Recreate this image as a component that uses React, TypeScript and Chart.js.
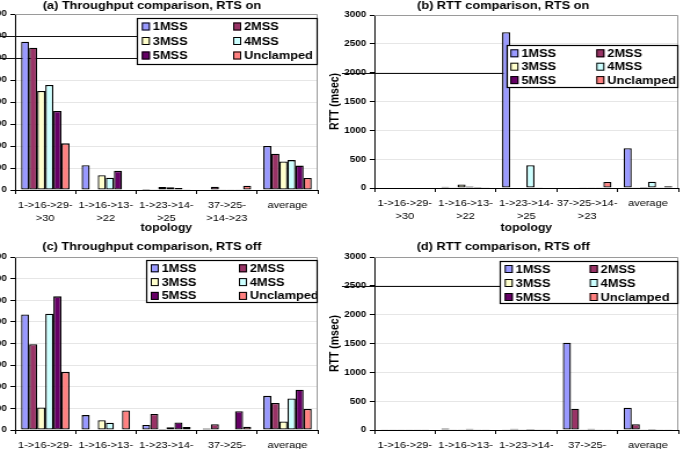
import React, { useEffect, useRef } from 'react';
import { Chart, registerables } from 'chart.js';

Chart.register(...registerables);

// Category labels (topologies)
const topologies = [['1->16->29-', '>30'], ['1->16->13-', '>22'], ['1->23->14-', '>25'], ['37->25-', '>14->23'], 'average'];
const topologiesRttOn = [['1->16->29-', '>30'], ['1->16->13-', '>22'], ['1->23->14-', '>25'], ['37->25->14-', '>23'], 'average'];

const seriesNames = ['1MSS', '2MSS', '3MSS', '4MSS', '5MSS', 'Unclamped'];
const seriesColors = ['#9999FF', '#993366', '#FFFFCC', '#CCFFFF', '#660066', '#FF8080'];

// (a) Throughput, RTS on
const thrOn1MSS = [674, 113, 4, 2, 200];
const thrOn2MSS = [647, 0, 1, 15, 165];
const thrOn3MSS = [450, 67, 14, 1, 130];
const thrOn4MSS = [477, 56, 12, 1, 136];
const thrOn5MSS = [359, 87, 9, 1, 111];
const thrOnUnclamped = [212, 0, 3, 19, 55];

// (b) RTT, RTS on
const rttOn1MSS = [10, 20, 2700, 8, 690];
const rttOn2MSS = [10, 12, 10, 8, 15];
const rttOn3MSS = [10, 60, 8, 6, 18];
const rttOn4MSS = [10, 25, 395, 6, 110];
const rttOn5MSS = [10, 18, 12, 6, 12];
const rttOnUnclamped = [10, 15, 8, 105, 30];

// (c) Throughput, RTS off
const thrOff1MSS = [534, 69, 23, 7, 158];
const thrOff2MSS = [397, 0, 74, 27, 125];
const thrOff3MSS = [104, 45, 5, 0, 39];
const thrOff4MSS = [538, 34, 13, 0, 146];
const thrOff5MSS = [618, 0, 35, 87, 186];
const thrOffUnclamped = [269, 90, 14, 15, 97];

// (d) RTT, RTS off
const rttOff1MSS = [4, 25, 6, 1515, 385];
const rttOff2MSS = [4, 6, 20, 370, 100];
const rttOff3MSS = [4, 6, 4, 6, 5];
const rttOff4MSS = [4, 20, 18, 20, 18];
const rttOff5MSS = [4, 6, 4, 4, 5];
const rttOffUnclamped = [4, 4, 4, 6, 5];

// Axis ranges
const throughputMax = 800;
const throughputStep = 100;
const rttMax = 3000;
const rttStep = 500;

const FONT = '"Liberation Sans", Arial, Helvetica, sans-serif';
const STRETCH = 1.16;

Chart.defaults.font.family = FONT;
Chart.defaults.color = '#000';

// Legend box drawn inside the plot area, two columns, over the bars
const legendBox = {
  id: 'legendBox',
  afterDatasetsDraw(chart: any, _args: any, opts: any) {
    const { ctx, chartArea } = chart;
    const x0 = Math.round(chartArea.right - opts.width);
    const y0 = Math.round(chartArea.top + opts.top);
    ctx.save();
    ctx.fillStyle = '#fff';
    ctx.fillRect(x0, y0, opts.width, opts.height);
    ctx.strokeStyle = '#000';
    ctx.lineWidth = 1.2;
    ctx.strokeRect(x0 + 0.5, y0 + 0.5, opts.width - 1, opts.height - 1);
    ctx.font = `bold 11px ${FONT}`;
    ctx.textBaseline = 'middle';
    ctx.textAlign = 'left';
    chart.data.datasets.forEach((ds: any, i: number) => {
      const col = i % 2;
      const row = Math.floor(i / 2);
      const sx = x0 + (col ? opts.col2 : opts.col1);
      const cy = y0 + opts.firstRow + row * opts.rowGap;
      ctx.fillStyle = ds.backgroundColor;
      ctx.fillRect(sx, cy - 4, 7, 8);
      ctx.lineWidth = 1;
      ctx.strokeStyle = '#000';
      ctx.strokeRect(sx + 0.5, cy - 3.5, 6, 7);
      ctx.fillStyle = '#000';
      ctx.fillText(ds.label, sx + 9.5, cy + 0.5);
    });
    ctx.restore();
  },
};

// Plot-area frame (top and right) plus dark reference rules left of the legend
const plotFrame = {
  id: 'plotFrame',
  beforeDatasetsDraw(chart: any, _args: any, opts: any) {
    const { ctx, chartArea } = chart;
    ctx.save();
    ctx.strokeStyle = '#9a9a9a';
    ctx.lineWidth = 1;
    ctx.beginPath();
    ctx.moveTo(chartArea.left, Math.round(chartArea.top) + 0.5);
    ctx.lineTo(Math.round(chartArea.right) - 0.5, Math.round(chartArea.top) + 0.5);
    ctx.lineTo(Math.round(chartArea.right) - 0.5, chartArea.bottom);
    ctx.stroke();
    const legendW = chart.options.plugins.legendBox.width;
    const yScale = chart.scales.y;
    ctx.strokeStyle = '#111';
    ctx.lineWidth = 1.1;
    (opts.rules || []).forEach((v: number) => {
      const py = Math.round(yScale.getPixelForValue(v)) + 0.5;
      ctx.beginPath();
      ctx.moveTo(opts.fromX, py);
      ctx.lineTo(chartArea.right - legendW, py);
      ctx.stroke();
    });
    ctx.restore();
  },
};

type LegendSpec = { top: number; width: number; height: number; col1: number; col2: number; firstRow: number; rowGap: number };

type PanelSpec = {
  title: string;
  labels: any[];
  series: number[][];
  max: number;
  step: number;
  yTitle?: string;
  left: number;
  top: number;
  width: number;
  height: number;
  yWidth: number;
  xHeight: number;
  padRight: number;
  titlePad: { top: number; bottom: number };
  legend: LegendSpec;
  rules: number[];
  rulesFromX: number;
};

function BarPanel(p: PanelSpec) {
  const ref = useRef<HTMLCanvasElement>(null);

  useEffect(() => {
    const datasets = p.series.map((data, i) => ({
      label: seriesNames[i],
      data,
      backgroundColor: seriesColors[i],
      borderColor: '#000',
      borderWidth: 1.3,
      borderSkipped: false as const,
      categoryPercentage: 0.8,
      barPercentage: 1.0,
    }));
    const chart = new Chart(ref.current as HTMLCanvasElement, {
      type: 'bar',
      data: { labels: p.labels, datasets },
      plugins: [plotFrame, legendBox],
      options: {
        responsive: false,
        animation: false,
        devicePixelRatio: 1,
        layout: { padding: { left: 0, right: p.padRight, top: 0, bottom: 0 } },
        plugins: {
          legend: { display: false },
          tooltip: { enabled: false },
          title: {
            display: true,
            text: p.title,
            color: '#000',
            font: { size: 11, weight: 'bold', family: FONT, lineHeight: 1 },
            padding: p.titlePad,
          },
          legendBox: p.legend,
          plotFrame: { rules: p.rules, fromX: p.rulesFromX },
        } as any,
        scales: {
          x: {
            grid: { drawOnChartArea: false, drawTicks: true, tickLength: 4, tickColor: '#000', offset: true },
            border: { color: '#000', width: 1 },
            ticks: {
              color: '#000',
              font: { size: 9.5, family: FONT, lineHeight: 1.4 },
              padding: 4.5,
              maxRotation: 0,
              minRotation: 0,
              autoSkip: false,
            },
            title: {
              display: true,
              text: 'topology',
              color: '#000',
              font: { size: 10.5, weight: 'bold', family: FONT, lineHeight: 1.2 },
              padding: { top: 0, bottom: 2 },
            },
            afterFit: (s: any) => {
              s.height = p.xHeight;
            },
          },
          y: {
            min: 0,
            max: p.max,
            grid: { color: '#e6e6e6', tickColor: '#000', tickLength: 4, drawTicks: true },
            border: { color: '#000', width: 1 },
            ticks: {
              stepSize: p.step,
              color: '#000',
              font: { size: 8.5, weight: 'bold', family: FONT },
              padding: 3,
              callback: (v: any) => String(v),
            },
            title: p.yTitle
              ? {
                  display: true,
                  text: p.yTitle,
                  color: '#000',
                  font: { size: 10.5, weight: 'bold', family: FONT, lineHeight: 1.2 },
                  padding: { top: 0, bottom: 0 },
                }
              : { display: false },
            afterFit: (s: any) => {
              s.width = p.yWidth;
            },
          },
        },
      } as any,
    });
    return () => chart.destroy();
  }, []);

  return (
    <div style={{ position: 'absolute', left: p.left, top: p.top, width: p.width * STRETCH, height: p.height }}>
      <canvas
        ref={ref}
        width={p.width}
        height={p.height}
        style={{ transform: `scaleX(${STRETCH})`, transformOrigin: '0 0' }}
      />
    </div>
  );
}

export default function App() {
  return (
    <div
      style={{
        position: 'absolute',
        left: 0,
        top: 0,
        width: 688,
        height: 449,
        overflow: 'hidden',
        background: '#fff',
      }}
    >
      <BarPanel
        title="(a) Throughput comparison, RTS on"
        labels={topologies}
        series={[thrOn1MSS, thrOn2MSS, thrOn3MSS, thrOn4MSS, thrOn5MSS, thrOnUnclamped]}
        max={throughputMax}
        step={throughputStep}
        left={-14}
        top={0}
        width={290}
        height={236}
        yWidth={25}
        xHeight={46}
        padRight={4}
        titlePad={{ top: 0, bottom: 3 }}
        legend={{ top: 4, width: 156, height: 47, col1: 4.3, col2: 83, firstRow: 8.5, rowGap: 14.5 }}
        rules={[600, 700]}
        rulesFromX={0}
      />
      <BarPanel
        title="(b) RTT comparison, RTS on"
        labels={topologiesRttOn}
        series={[rttOn1MSS, rttOn2MSS, rttOn3MSS, rttOn4MSS, rttOn5MSS, rttOnUnclamped]}
        max={rttMax}
        step={rttStep}
        yTitle="RTT (msec)"
        left={328}
        top={0}
        width={307}
        height={236}
        yWidth={40}
        xHeight={48}
        padRight={5}
        titlePad={{ top: 0, bottom: 4 }}
        legend={{ top: 30, width: 148, height: 43, col1: 3.2, col2: 77.3, firstRow: 8.3, rowGap: 13.4 }}
        rules={[2000]}
        rulesFromX={12}
      />
      <BarPanel
        title="(c) Throughput comparison, RTS off"
        labels={topologies}
        series={[thrOff1MSS, thrOff2MSS, thrOff3MSS, thrOff4MSS, thrOff5MSS, thrOffUnclamped]}
        max={throughputMax}
        step={throughputStep}
        left={-14}
        top={236}
        width={290}
        height={236}
        yWidth={25}
        xHeight={42}
        padRight={4}
        titlePad={{ top: 5.5, bottom: 4.5 }}
        legend={{ top: 3, width: 148, height: 43, col1: 4, col2: 80, firstRow: 8.3, rowGap: 13.8 }}
        rules={[]}
        rulesFromX={0}
      />
      <BarPanel
        title="(d) RTT comparison, RTS off"
        labels={topologies}
        series={[rttOff1MSS, rttOff2MSS, rttOff3MSS, rttOff4MSS, rttOff5MSS, rttOffUnclamped]}
        max={rttMax}
        step={rttStep}
        yTitle="RTT (msec)"
        left={328}
        top={236}
        width={307}
        height={236}
        yWidth={40}
        xHeight={42}
        padRight={5}
        titlePad={{ top: 5.5, bottom: 4.5 }}
        legend={{ top: 4, width: 154, height: 43, col1: 4.3, col2: 77.6, firstRow: 8, rowGap: 14 }}
        rules={[2500]}
        rulesFromX={12}
      />
    </div>
  );
}
